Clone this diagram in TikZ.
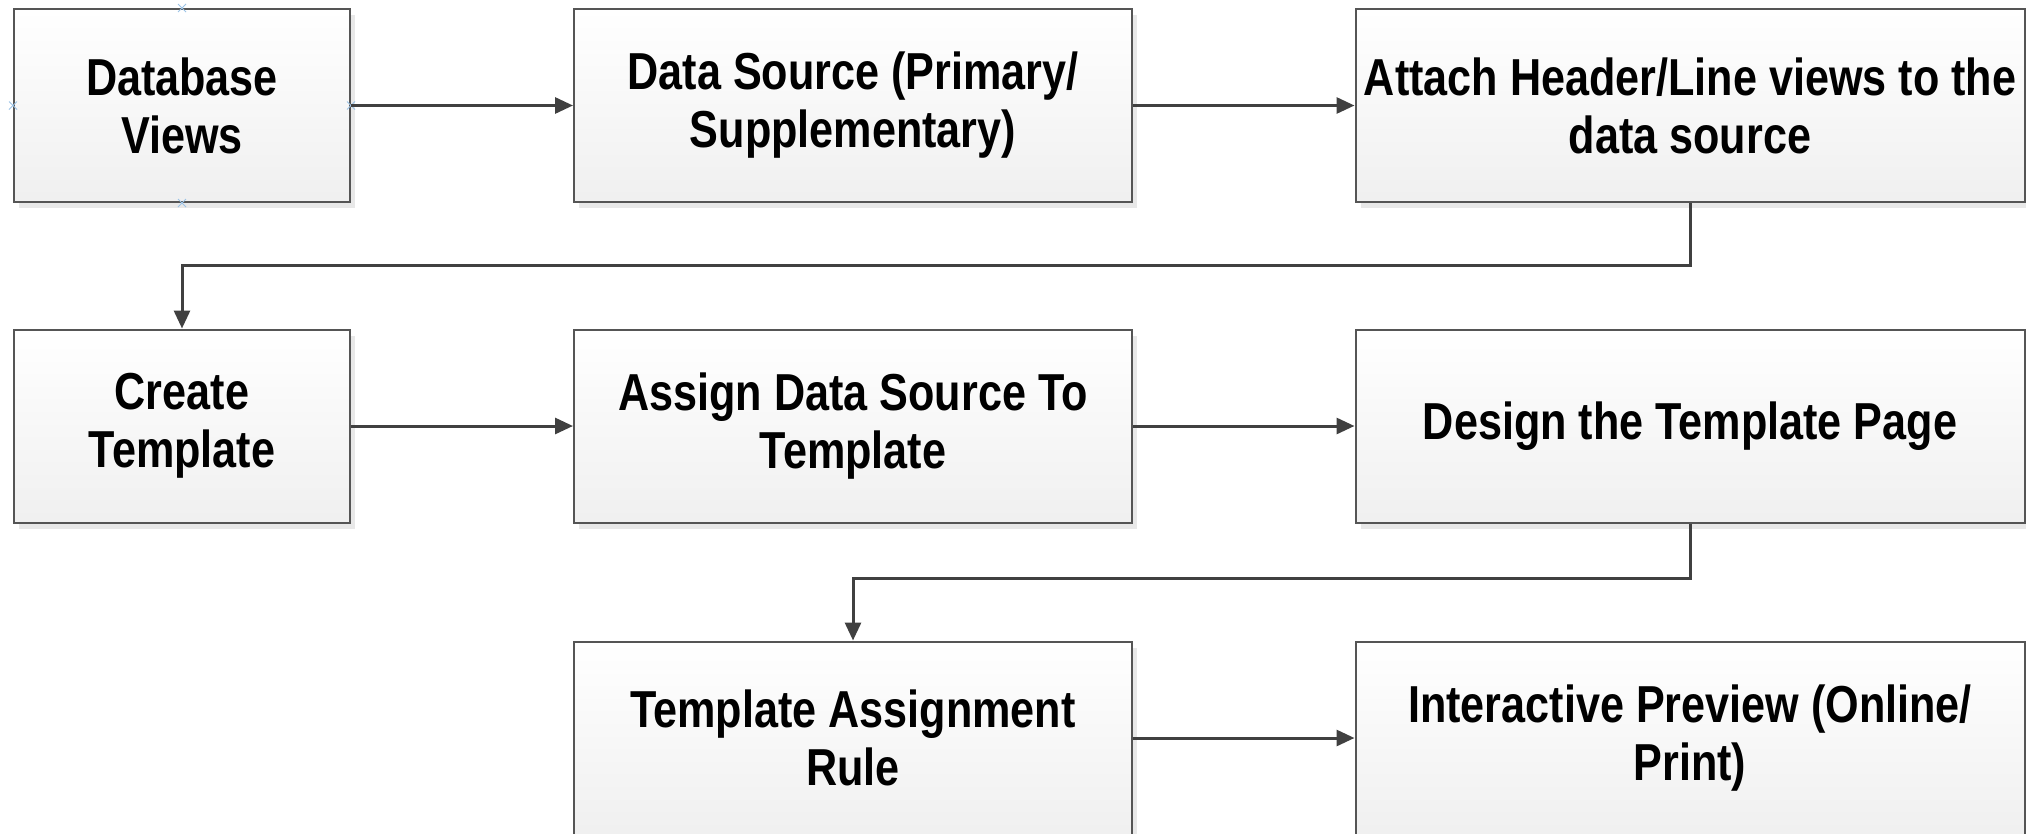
\documentclass[tikz,border=0pt]{standalone}
\usepackage{fontspec}
\setmainfont[FakeStretch=0.83]{Liberation Sans}
\usetikzlibrary{arrows.meta,shadows,positioning}
\definecolor{boxline}{HTML}{555555}
\definecolor{arrowc}{HTML}{404040}
\definecolor{xblue}{HTML}{9CC3E6}
\tikzset{
  stepbox/.style={draw=boxline, line width=2pt, top color=white, bottom color=black!6,
    minimum height=193pt, inner sep=0pt, align=center,
    font=\fontsize{52}{58}\selectfont\bfseries,
    drop shadow={shadow xshift=5pt, shadow yshift=-6pt, fill=black!9, opacity=1}},
  flow/.style={draw=arrowc, line width=3pt, -{Triangle[length=18pt,width=16pt]}},
  xmark/.style={draw=xblue, line width=1pt}
}
\begin{document}
\begin{tikzpicture}[x=1pt,y=1pt]
\useasboundingbox (0,0) rectangle (2026,-833);
% row 1
\node[stepbox, minimum width=336pt] (b1) at (182,-105.5) {Database\\Views};
\node[stepbox, minimum width=558pt] (b2) at (853,-105.5) {Data Source (Primary/\\Supplementary)};
\node[stepbox, minimum width=669pt] (b3) at (1690,-105.5) {Attach Header/Line views to the\\data source};
% row 2
\node[stepbox, minimum width=336pt] (b4) at (182,-426) {Create\\Template};
\node[stepbox, minimum width=558pt] (b5) at (853,-426) {Assign Data Source To\\Template};
\node[stepbox, minimum width=669pt] (b6) at (1690,-426) {Design the Template Page};
% row 3
\node[stepbox, minimum width=558pt] (b7) at (853,-738) {Template Assignment\\Rule};
\node[stepbox, minimum width=669pt] (b8) at (1690,-738) {Interactive Preview (Online/\\Print)};
% connection point marks on first box
\foreach \a in {north,south,east,west}{
  \draw[xmark] ([shift={(-4pt,-4pt)}]b1.\a) -- ([shift={(4pt,4pt)}]b1.\a)
               ([shift={(-4pt,4pt)}]b1.\a) -- ([shift={(4pt,-4pt)}]b1.\a);
}
% connectors
\draw[flow] (b1.east) -- (b2.west);
\draw[flow] (b2.east) -- (b3.west);
\coordinate (k1) at (0,-265);
\draw[flow] (b3.south) -- (b3.south |- k1) -- (b4.north |- k1) -- (b4.north);
\draw[flow] (b4.east) -- (b5.west);
\draw[flow] (b5.east) -- (b6.west);
\coordinate (k2) at (0,-578);
\draw[flow] (b6.south) -- (b6.south |- k2) -- (b7.north |- k2) -- (b7.north);
\draw[flow] (b7.east) -- (b8.west);
\end{tikzpicture}
\end{document}
